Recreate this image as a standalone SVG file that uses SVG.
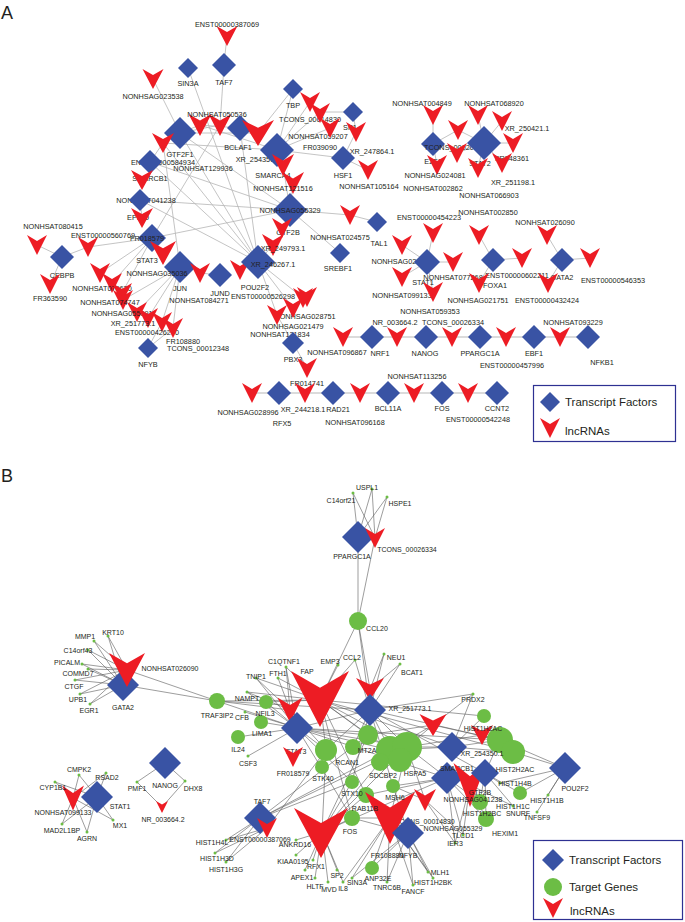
<svg xmlns="http://www.w3.org/2000/svg" width="685" height="922" viewBox="0 0 685 922">
<style>
.t{font-family:"Liberation Sans",Arial,sans-serif;font-size:7.3px;fill:#231f20;text-anchor:middle}
.b{font-family:"Liberation Sans",Arial,sans-serif;font-size:7px;fill:#231f20;text-anchor:middle}
.p{font-family:"Liberation Sans",Arial,sans-serif;font-size:18px;fill:#231f20}
.lg{font-family:"Liberation Sans",Arial,sans-serif;font-size:11.5px;fill:#231f20}
.ea line,.ea polyline{stroke:#b5b5b5;stroke-width:0.8;fill:none}
.eb line{stroke:#5a5a5a;stroke-width:0.6}
.dot{fill:#6cbd45}
</style>
<defs>
<polygon id="d" points="0,-1 1,0 0,1 -1,0" fill="#3953a4"/>
<polygon id="v" points="-1,-1 0,-0.4 1,-1 0,1" fill="#ed1c24"/>
</defs>
<rect width="685" height="922" fill="#fff"/>
<text class="p" x="1" y="19">A</text>
<text class="p" x="1" y="482">B</text>

<g id="edgesA" class="ea">
<line x1="227" y1="35" x2="224" y2="65"/><line x1="224" y1="65" x2="220" y2="125"/>
<line x1="188" y1="68" x2="258" y2="262"/><line x1="153" y1="79" x2="180" y2="133"/>
<line x1="293" y1="89" x2="258" y2="133"/><line x1="293" y1="89" x2="277" y2="150"/>
<line x1="180" y1="133" x2="200" y2="125"/><line x1="180" y1="133" x2="220" y2="125"/>
<line x1="180" y1="133" x2="163" y2="143"/><line x1="180" y1="133" x2="258" y2="133"/>
<line x1="180" y1="133" x2="258" y2="262"/><line x1="180" y1="133" x2="290" y2="210"/>
<line x1="240" y1="128" x2="200" y2="125"/><line x1="240" y1="128" x2="258" y2="262"/>
<line x1="277" y1="150" x2="310" y2="102"/><line x1="277" y1="150" x2="320" y2="112"/>
<line x1="277" y1="150" x2="330" y2="128"/><line x1="277" y1="150" x2="343" y2="158"/>
<line x1="277" y1="150" x2="200" y2="125"/><line x1="277" y1="150" x2="163" y2="143"/>
<line x1="353" y1="112" x2="356" y2="132"/><line x1="353" y1="112" x2="320" y2="112"/>
<line x1="343" y1="158" x2="356" y2="132"/><line x1="343" y1="158" x2="368" y2="170"/>
<line x1="150" y1="162" x2="163" y2="143"/><line x1="150" y1="162" x2="290" y2="210"/>
<line x1="150" y1="162" x2="258" y2="262"/><line x1="140" y1="200" x2="142" y2="218"/>
<line x1="140" y1="200" x2="290" y2="210"/><line x1="140" y1="200" x2="258" y2="262"/>
<line x1="152" y1="238" x2="88" y2="247"/><line x1="152" y1="238" x2="163" y2="253"/>
<line x1="152" y1="238" x2="100" y2="273"/><line x1="152" y1="238" x2="112" y2="283"/>
<line x1="152" y1="238" x2="122" y2="293"/><line x1="152" y1="238" x2="220" y2="125"/>
<line x1="152" y1="238" x2="290" y2="210"/><line x1="163" y1="143" x2="180" y2="267"/>
<line x1="62" y1="257" x2="37" y2="245"/><line x1="62" y1="257" x2="88" y2="247"/>
<line x1="62" y1="257" x2="50" y2="285"/>
<line x1="180" y1="267" x2="123" y2="300"/><line x1="180" y1="267" x2="137" y2="312"/>
<line x1="180" y1="267" x2="148" y2="318"/><line x1="180" y1="267" x2="162" y2="322"/>
<line x1="180" y1="267" x2="173" y2="328"/><line x1="148" y1="348" x2="162" y2="322"/>
<line x1="148" y1="348" x2="173" y2="328"/><line x1="220" y1="275" x2="200" y2="273"/>
<line x1="258" y1="262" x2="240" y2="270"/><line x1="258" y1="262" x2="273" y2="245"/>
<line x1="258" y1="262" x2="303" y2="298"/><line x1="258" y1="262" x2="293" y2="308"/>
<line x1="258" y1="262" x2="277" y2="315"/><line x1="258" y1="262" x2="163" y2="143"/>
<line x1="290" y1="210" x2="340" y2="253"/><line x1="290" y1="210" x2="350" y2="215"/>
<line x1="290" y1="210" x2="283" y2="165"/><line x1="290" y1="210" x2="293" y2="183"/>
<line x1="377" y1="222" x2="350" y2="215"/>
<line x1="293" y1="343" x2="277" y2="315"/><line x1="293" y1="343" x2="307" y2="368"/>
<line x1="433" y1="144" x2="433" y2="115"/><line x1="433" y1="144" x2="458" y2="130"/>
<line x1="433" y1="144" x2="437" y2="165"/>
<line x1="484" y1="143" x2="478" y2="115"/><line x1="484" y1="143" x2="502" y2="121"/>
<line x1="484" y1="143" x2="458" y2="130"/><line x1="484" y1="143" x2="513" y2="143"/>
<line x1="484" y1="143" x2="457" y2="153"/><line x1="484" y1="143" x2="478" y2="168"/>
<line x1="484" y1="143" x2="502" y2="163"/>
<line x1="427" y1="262" x2="433" y2="233"/><line x1="427" y1="262" x2="402" y2="245"/>
<line x1="427" y1="262" x2="453" y2="262"/><line x1="427" y1="262" x2="402" y2="277"/>
<line x1="427" y1="262" x2="433" y2="292"/>
<line x1="493" y1="260" x2="479" y2="235"/><line x1="493" y1="260" x2="522" y2="258"/>
<line x1="493" y1="260" x2="479" y2="283"/>
<line x1="562" y1="260" x2="547" y2="235"/><line x1="562" y1="260" x2="590" y2="258"/>
<line x1="562" y1="260" x2="548" y2="283"/>
<polyline points="343,337 588,337" style="stroke-width:1.6;stroke:#cfcfcf"/>
<polyline points="252,393 497,393" style="stroke-width:1.6;stroke:#cfcfcf"/>
</g>

<g id="nodesA">
<g id="a-ENST00000387069"><use href="#v" transform="translate(227,36) scale(10.5,10)"/><text class="t" x="227" y="26.5">ENST00000387069</text></g>
<g id="a-TAF7"><use href="#d" transform="translate(224,65) scale(12)"/><text class="t" x="224" y="84.5">TAF7</text></g>
<g id="a-SIN3A"><use href="#d" transform="translate(188,68) scale(10)"/><text class="t" x="188" y="85.5">SIN3A</text></g>
<g id="a-NONHSAG023538"><use href="#v" transform="translate(153,79) scale(10.5,10)"/><text class="t" x="153" y="98.5">NONHSAG023538</text></g>
<g id="a-TBP"><use href="#d" transform="translate(293,89) scale(10)"/><text class="t" x="293" y="107.5">TBP</text></g>
<g id="a-SP1"><use href="#d" transform="translate(353,112) scale(10)"/><text class="t" x="350" y="129.5">SP1</text></g>
<g id="a-TCONS_00014830"><use href="#v" transform="translate(310,102) scale(10)"/><text class="t" x="310" y="121.5">TCONS_00014830</text></g>
<g id="a-NONHSAT059207"><use href="#v" transform="translate(320,113) scale(10)"/><text class="t" x="318" y="138.5">NONHSAT059207</text></g>
<g id="a-FR039090"><use href="#v" transform="translate(330,128) scale(10)"/><text class="t" x="320" y="149.5">FR039090</text></g>
<g id="a-XR_247864.1"><use href="#v" transform="translate(356,132) scale(10)"/><text class="t" x="372" y="153.5">XR_247864.1</text></g>
<g id="a-GTF2F1"><use href="#d" transform="translate(180,133) scale(16)"/><text class="t" x="180" y="156.5">GTF2F1</text></g>
<g id="a-NONHSAT050536a"><use href="#v" transform="translate(200,125) scale(11.5,11)"/></g>
<g id="a-NONHSAT050536"><use href="#v" transform="translate(220,125) scale(11.5,11)"/><text class="t" x="217" y="116.5">NONHSAT050536</text></g>
<g id="a-BCLAF1"><use href="#d" transform="translate(240,128) scale(13)"/><text class="t" x="238" y="149.5">BCLAF1</text></g>
<g id="a-XR_254350.1"><use href="#v" transform="translate(258,133) scale(16,13)"/><text class="t" x="258" y="161.5">XR_254350.1</text></g>
<g id="a-SMARCA4"><use href="#d" transform="translate(277,150) scale(17)"/><text class="t" x="273" y="177.5">SMARCA4</text></g>
<g id="a-HSF1"><use href="#d" transform="translate(343,158) scale(12)"/><text class="t" x="343" y="177.5">HSF1</text></g>
<g id="a-NONHSAT105164"><use href="#v" transform="translate(368,170) scale(10)"/><text class="t" x="369" y="188.5">NONHSAT105164</text></g>
<g id="a-ENST00000584934"><use href="#v" transform="translate(163,143) scale(11,10)"/><text class="t" x="163" y="164.5">ENST00000584934</text></g>
<g id="a-SMARCB1"><use href="#d" transform="translate(150,162) scale(12)"/><text class="t" x="150" y="180.5">SMARCB1</text></g>
<g id="a-NONHSAT129936"><text class="t" x="203" y="170.5">NONHSAT129936</text></g>
<g id="a-NONHSAT041238"><use href="#v" transform="translate(142,180) scale(11,10)"/><text class="t" x="146" y="202.5">NONHSAT041238</text></g>
<g id="a-EP300"><use href="#d" transform="translate(140,200) scale(11)"/><text class="t" x="138" y="219.5">EP300</text></g>
<g id="a-V218"><use href="#v" transform="translate(142,218) scale(11,10)"/></g>
<g id="a-NONHSAT121516"><use href="#v" transform="translate(283,165) scale(11)"/><use href="#v" transform="translate(293,183) scale(11)"/><text class="t" x="283" y="190.5">NONHSAT121516</text></g>
<g id="a-GTF2B"><use href="#d" transform="translate(290,210) scale(17)"/><text class="t" x="290" y="212.5">NONHSAG055329</text><text class="t" x="288" y="234.5">GTF2B</text></g>
<g id="a-V228"><use href="#v" transform="translate(282,228) scale(10)"/></g>
<g id="a-XR_249793.1"><use href="#v" transform="translate(273,245) scale(11)"/><text class="t" x="283" y="250.5">XR_249793.1</text></g>
<g id="a-NONHSAT024575"><use href="#v" transform="translate(350,215) scale(10)"/><text class="t" x="340" y="239.5">NONHSAT024575</text></g>
<g id="a-TAL1"><use href="#d" transform="translate(377,222) scale(10)"/><text class="t" x="379" y="245.5">TAL1</text></g>
<g id="a-SREBF1"><use href="#d" transform="translate(340,253) scale(10)"/><text class="t" x="338" y="270.5">SREBF1</text></g>
<g id="a-STAT3"><use href="#d" transform="translate(152,238) scale(14)"/><text class="t" x="147" y="240.5">FR018579</text><text class="t" x="147" y="262.5">STAT3</text></g>
<g id="a-NONHSAT080415"><use href="#v" transform="translate(37,245) scale(10)"/><text class="t" x="53" y="228.5">NONHSAT080415</text></g>
<g id="a-ENST00000560769"><use href="#v" transform="translate(88,247) scale(10)"/><text class="t" x="103" y="237.5">ENST00000560769</text></g>
<g id="a-CEBPB"><use href="#d" transform="translate(62,257) scale(12)"/><text class="t" x="62" y="277.5">CEBPB</text></g>
<g id="a-FR363590"><use href="#v" transform="translate(50,284) scale(10)"/><text class="t" x="50" y="300.5">FR363590</text></g>
<g id="a-V253"><use href="#v" transform="translate(163,253) scale(13,12)"/></g>
<g id="a-JUN"><use href="#d" transform="translate(180,267) scale(16)"/><text class="t" x="157" y="275.5">NONHSAG035036</text><text class="t" x="180" y="290.5">JUN</text></g>
<g id="a-V200"><use href="#v" transform="translate(200,273) scale(10)"/></g>
<g id="a-JUND"><use href="#d" transform="translate(220,275) scale(12)"/><text class="t" x="220" y="295.5">JUND</text></g>
<g id="a-V240"><use href="#v" transform="translate(240,270) scale(10)"/></g>
<g id="a-POU2F2"><use href="#d" transform="translate(258,262) scale(17)"/><text class="t" x="273" y="266.5">XR_246267.1</text><text class="t" x="255" y="289.5">POU2F2</text></g>
<g id="a-ENST00000526298"><use href="#v" transform="translate(307,297) scale(10)"/><text class="t" x="263" y="298.5">ENST00000526298</text></g>
<g id="a-NONHSAT079630"><use href="#v" transform="translate(100,273) scale(10)"/><use href="#v" transform="translate(112,283) scale(10)"/><text class="t" x="102" y="290.5">NONHSAT079630</text></g>
<g id="a-NONHSAT074747"><use href="#v" transform="translate(122,293) scale(10)"/><use href="#v" transform="translate(123,300) scale(10)"/><text class="t" x="110" y="304.5">NONHSAT074747</text></g>
<g id="a-NONHSAG055091"><use href="#v" transform="translate(137,312) scale(10)"/><text class="t" x="122" y="315.5">NONHSAG055091</text></g>
<g id="a-XR_251773.1"><use href="#v" transform="translate(148,318) scale(10)"/><text class="t" x="133" y="325.5">XR_251773.1</text></g>
<g id="a-ENST00000426270"><use href="#v" transform="translate(162,322) scale(10)"/><text class="t" x="147" y="334.5">ENST00000426270</text></g>
<g id="a-FR108880"><use href="#v" transform="translate(173,328) scale(10)"/><text class="t" x="183" y="343.5">FR108880</text></g>
<g id="a-NONHSAT084271"><text class="t" x="199" y="302.5">NONHSAT084271</text></g>
<g id="a-TCONS_00012348"><text class="t" x="198" y="350.5">TCONS_00012348</text></g>
<g id="a-NFYB"><use href="#d" transform="translate(148,348) scale(10)"/><text class="t" x="148" y="366.5">NFYB</text></g>
<g id="a-NONHSAG028751"><use href="#v" transform="translate(303,298) scale(10)"/><text class="t" x="305" y="318.5">NONHSAG028751</text></g>
<g id="a-NONHSAG021479"><use href="#v" transform="translate(293,308) scale(10)"/><text class="t" x="293" y="328.5">NONHSAG021479</text></g>
<g id="a-NONHSAT131834"><use href="#v" transform="translate(277,315) scale(10)"/><text class="t" x="280" y="336.5">NONHSAT131834</text></g>
<g id="a-PBX3"><use href="#d" transform="translate(293,343) scale(11)"/><text class="t" x="293" y="361.5">PBX3</text></g>
<g id="a-FR014741"><use href="#v" transform="translate(307,368) scale(10)"/><text class="t" x="307" y="385.5">FR014741</text></g>
<g id="a-NONHSAT004849"><use href="#v" transform="translate(433,115) scale(10)"/><text class="t" x="422" y="105.5">NONHSAT004849</text></g>
<g id="a-NONHSAT068920"><use href="#v" transform="translate(478,115) scale(10)"/><text class="t" x="494" y="105.5">NONHSAT068920</text></g>
<g id="a-V458"><use href="#v" transform="translate(458,130) scale(10)"/></g>
<g id="a-XR_250421.1"><use href="#v" transform="translate(502,121) scale(10)"/><text class="t" x="527" y="130.5">XR_250421.1</text></g>
<g id="a-E2F1"><use href="#d" transform="translate(433,144) scale(12)"/><text class="t" x="433" y="163.5">E2F1</text></g>
<g id="a-TCONS_0002"><text class="t" x="455" y="149.5">TCONS_00020734</text><use href="#v" transform="translate(457,153) scale(10)"/></g>
<g id="a-STAT2"><use href="#d" transform="translate(484,143) scale(17)"/><text class="t" x="480" y="165.5">STAT2</text></g>
<g id="a-FR348361"><use href="#v" transform="translate(513,143) scale(10)"/><text class="t" x="512" y="160.5">FR348361</text></g>
<g id="a-NONHSAG024081"><use href="#v" transform="translate(437,165) scale(10)"/><text class="t" x="435" y="177.5">NONHSAG024081</text></g>
<g id="a-XR_251198.1"><use href="#v" transform="translate(502,163) scale(10)"/><text class="t" x="513" y="184.5">XR_251198.1</text></g>
<g id="a-NONHSAT066903"><use href="#v" transform="translate(478,168) scale(10)"/><text class="t" x="489" y="197.5">NONHSAT066903</text></g>
<g id="a-NONHSAT002862"><text class="t" x="433" y="190.5">NONHSAT002862</text></g>
<g id="a-ENST00000454223"><use href="#v" transform="translate(433,233) scale(10)"/><text class="t" x="429" y="219.5">ENST00000454223</text></g>
<g id="a-NONHSAG023901"><use href="#v" transform="translate(402,245) scale(10)"/><text class="t" x="402" y="263.5">NONHSAG023901</text></g>
<g id="a-STAT1"><use href="#d" transform="translate(427,262) scale(13)"/><text class="t" x="423" y="284.5">STAT1</text></g>
<g id="a-NONHSAT077268"><use href="#v" transform="translate(453,262) scale(10)"/><text class="t" x="453" y="279.5">NONHSAT077268</text></g>
<g id="a-NONHSAT099133"><use href="#v" transform="translate(402,277) scale(10)"/><text class="t" x="402" y="297.5">NONHSAT099133</text></g>
<g id="a-V433"><use href="#v" transform="translate(433,292) scale(10)"/></g>
<g id="a-NONHSAT002850"><use href="#v" transform="translate(479,235) scale(10)"/><text class="t" x="488" y="214.5">NONHSAT002850</text></g>
<g id="a-FOXA1"><use href="#d" transform="translate(493,260) scale(12)"/><text class="t" x="495" y="287.5">FOXA1</text></g>
<g id="a-ENST00000602211"><use href="#v" transform="translate(522,258) scale(10)"/><text class="t" x="517" y="277.5">ENST00000602211</text></g>
<g id="a-NONHSAG021751"><use href="#v" transform="translate(479,283) scale(10)"/><text class="t" x="478" y="302.5">NONHSAG021751</text></g>
<g id="a-NONHSAT026090"><use href="#v" transform="translate(547,235) scale(10)"/><text class="t" x="545" y="224.5">NONHSAT026090</text></g>
<g id="a-GATA2"><use href="#d" transform="translate(562,260) scale(12)"/><text class="t" x="562" y="279.5">GATA2</text></g>
<g id="a-ENST00000546353"><use href="#v" transform="translate(590,258) scale(10)"/><text class="t" x="613" y="282.5">ENST00000546353</text></g>
<g id="a-ENST00000432424"><use href="#v" transform="translate(548,283) scale(10)"/><text class="t" x="547" y="302.5">ENST00000432424</text></g>
<g id="a-NONHSAT096867"><use href="#v" transform="translate(343,337) scale(10)"/><text class="t" x="337" y="354.5">NONHSAT096867</text></g>
<g id="a-NRF1"><use href="#d" transform="translate(372,337) scale(12)"/><text class="t" x="380" y="355.5">NRF1</text></g>
<g id="a-NR_003664.2"><use href="#v" transform="translate(397,337) scale(10)"/><text class="t" x="395" y="324.5">NR_003664.2</text></g>
<g id="a-NANOG"><use href="#d" transform="translate(426,337) scale(12)"/><text class="t" x="425" y="355.5">NANOG</text></g>
<g id="a-TCONS_00026334"><use href="#v" transform="translate(452,337) scale(10)"/><text class="t" x="453" y="324.5">TCONS_00026334</text></g>
<g id="a-NONHSAT059353"><text class="t" x="430" y="313.5">NONHSAT059353</text></g>
<g id="a-PPARGC1A"><use href="#d" transform="translate(480,337) scale(12)"/><text class="t" x="480" y="355.5">PPARGC1A</text></g>
<g id="a-ENST00000457996"><use href="#v" transform="translate(506,337) scale(10)"/><text class="t" x="512" y="367.5">ENST00000457996</text></g>
<g id="a-EBF1"><use href="#d" transform="translate(534,337) scale(12)"/><text class="t" x="534" y="355.5">EBF1</text></g>
<g id="a-NONHSAT093229"><use href="#v" transform="translate(560,337) scale(10)"/><text class="t" x="573" y="324.5">NONHSAT093229</text></g>
<g id="a-NFKB1"><use href="#d" transform="translate(588,337) scale(12)"/><text class="t" x="602" y="364.5">NFKB1</text></g>
<g id="a-NONHSAG028996"><use href="#v" transform="translate(252,393) scale(10)"/><text class="t" x="248" y="414.5">NONHSAG028996</text></g>
<g id="a-RFX5"><use href="#d" transform="translate(279,393) scale(12)"/><text class="t" x="282" y="425.5">RFX5</text></g>
<g id="a-XR_244218.1"><use href="#v" transform="translate(305,393) scale(10)"/><text class="t" x="303" y="411.5">XR_244218.1</text></g>
<g id="a-RAD21"><use href="#d" transform="translate(333,393) scale(12)"/><text class="t" x="338" y="411.5">RAD21</text></g>
<g id="a-NONHSAT096168"><use href="#v" transform="translate(360,393) scale(10)"/><text class="t" x="355" y="424.5">NONHSAT096168</text></g>
<g id="a-BCL11A"><use href="#d" transform="translate(388,393) scale(12)"/><text class="t" x="388" y="410.5">BCL11A</text></g>
<g id="a-NONHSAT113256"><use href="#v" transform="translate(414,393) scale(10)"/><text class="t" x="417" y="378.5">NONHSAT113256</text></g>
<g id="a-FOS"><use href="#d" transform="translate(442,393) scale(12)"/><text class="t" x="442" y="410.5">FOS</text></g>
<g id="a-ENST00000542248"><use href="#v" transform="translate(468,393) scale(10)"/><text class="t" x="478" y="421.5">ENST00000542248</text></g>
<g id="a-CCNT2"><use href="#d" transform="translate(497,393) scale(12)"/><text class="t" x="497" y="410.5">CCNT2</text></g>
</g>

<g id="legendA">
<rect x="533.5" y="385.5" width="142" height="56" fill="#fff" stroke="#2e3192" stroke-width="1.2"/>
<use href="#d" transform="translate(550,402) scale(10)"/>
<text class="lg" x="565" y="406">Transcript Factors</text>
<use href="#v" transform="translate(550,428) scale(10)"/>
<text class="lg" x="565" y="435">lncRNAs</text>
</g>

<g id="edgesB" class="eb">
<line x1="358" y1="537" x2="353" y2="493"/><line x1="358" y1="537" x2="372" y2="489"/><line x1="358" y1="537" x2="387" y2="497"/><line x1="358" y1="537" x2="358" y2="621"/>
<line x1="375" y1="538" x2="353" y2="493"/><line x1="375" y1="538" x2="372" y2="489"/><line x1="375" y1="538" x2="387" y2="497"/><line x1="375" y1="538" x2="358" y2="621"/>
<line x1="358" y1="621" x2="370" y2="710"/><line x1="358" y1="621" x2="370" y2="689"/><line x1="358" y1="621" x2="320" y2="700"/>
<line x1="123" y1="685" x2="94" y2="641"/><line x1="123" y1="685" x2="108" y2="636"/><line x1="123" y1="685" x2="88" y2="650"/><line x1="123" y1="685" x2="82" y2="664"/><line x1="123" y1="685" x2="88" y2="669"/><line x1="123" y1="685" x2="75" y2="680"/><line x1="123" y1="685" x2="80" y2="694"/><line x1="123" y1="685" x2="90" y2="704"/><line x1="123" y1="685" x2="217" y2="701"/>
<line x1="127" y1="670" x2="94" y2="641"/><line x1="127" y1="670" x2="108" y2="636"/><line x1="127" y1="670" x2="88" y2="650"/><line x1="127" y1="670" x2="82" y2="664"/><line x1="127" y1="670" x2="88" y2="669"/><line x1="127" y1="670" x2="75" y2="680"/><line x1="127" y1="670" x2="80" y2="694"/><line x1="127" y1="670" x2="90" y2="704"/><line x1="127" y1="670" x2="217" y2="701"/>
<line x1="217" y1="701" x2="297" y2="728"/><line x1="217" y1="701" x2="320" y2="700"/><line x1="217" y1="701" x2="290" y2="710"/><line x1="217" y1="701" x2="370" y2="710"/>
<line x1="297" y1="728" x2="247" y2="692"/><line x1="297" y1="728" x2="266" y2="702"/><line x1="297" y1="728" x2="245" y2="712"/><line x1="297" y1="728" x2="261" y2="722"/><line x1="297" y1="728" x2="238" y2="737"/><line x1="297" y1="728" x2="248" y2="756"/><line x1="297" y1="728" x2="256" y2="678"/><line x1="297" y1="728" x2="286" y2="667"/><line x1="297" y1="728" x2="278" y2="678"/><line x1="297" y1="728" x2="326" y2="750"/><line x1="297" y1="728" x2="368" y2="735"/><line x1="297" y1="728" x2="390" y2="750"/><line x1="297" y1="728" x2="407" y2="747"/><line x1="297" y1="728" x2="352" y2="782"/><line x1="297" y1="728" x2="352" y2="818"/>
<line x1="297" y1="728" x2="500" y2="740"/><line x1="297" y1="728" x2="447" y2="778"/>
<line x1="320" y1="700" x2="286" y2="667"/><line x1="320" y1="700" x2="278" y2="678"/><line x1="320" y1="700" x2="256" y2="678"/><line x1="320" y1="700" x2="338" y2="665"/><line x1="320" y1="700" x2="355" y2="660"/><line x1="320" y1="700" x2="266" y2="702"/><line x1="320" y1="700" x2="247" y2="692"/><line x1="320" y1="700" x2="326" y2="750"/><line x1="320" y1="700" x2="368" y2="735"/><line x1="320" y1="700" x2="390" y2="750"/><line x1="320" y1="700" x2="407" y2="747"/><line x1="320" y1="700" x2="452" y2="747"/><line x1="320" y1="700" x2="484" y2="716"/><line x1="320" y1="700" x2="352" y2="818"/><line x1="320" y1="700" x2="366" y2="795"/><line x1="320" y1="700" x2="513" y2="752"/>
<line x1="290" y1="710" x2="256" y2="678"/><line x1="290" y1="710" x2="286" y2="667"/><line x1="290" y1="710" x2="247" y2="692"/><line x1="290" y1="710" x2="326" y2="750"/>
<line x1="370" y1="710" x2="384" y2="654"/><line x1="370" y1="710" x2="400" y2="664"/><line x1="370" y1="710" x2="355" y2="660"/><line x1="370" y1="710" x2="368" y2="735"/><line x1="370" y1="710" x2="353" y2="747"/><line x1="370" y1="710" x2="390" y2="750"/><line x1="370" y1="710" x2="407" y2="747"/><line x1="370" y1="710" x2="326" y2="750"/><line x1="370" y1="710" x2="500" y2="740"/><line x1="370" y1="710" x2="473" y2="694"/><line x1="370" y1="710" x2="352" y2="782"/><line x1="370" y1="710" x2="393" y2="786"/><line x1="370" y1="710" x2="297" y2="728"/><line x1="370" y1="710" x2="485" y2="773"/>
<line x1="370" y1="689" x2="384" y2="654"/><line x1="370" y1="689" x2="400" y2="664"/>
<line x1="433" y1="725" x2="473" y2="694"/><line x1="433" y1="725" x2="407" y2="747"/><line x1="433" y1="725" x2="390" y2="750"/><line x1="433" y1="725" x2="500" y2="740"/><line x1="433" y1="725" x2="368" y2="735"/>
<line x1="452" y1="747" x2="473" y2="694"/><line x1="452" y1="747" x2="484" y2="716"/><line x1="452" y1="747" x2="500" y2="740"/><line x1="452" y1="747" x2="513" y2="752"/><line x1="452" y1="747" x2="407" y2="747"/><line x1="452" y1="747" x2="390" y2="750"/>
<line x1="482" y1="735" x2="500" y2="740"/><line x1="482" y1="735" x2="513" y2="752"/><line x1="482" y1="735" x2="407" y2="747"/>
<line x1="565" y1="768" x2="548" y2="795"/><line x1="565" y1="768" x2="537" y2="812"/><line x1="565" y1="768" x2="500" y2="783"/><line x1="565" y1="768" x2="513" y2="752"/><line x1="565" y1="768" x2="500" y2="740"/><line x1="565" y1="768" x2="520" y2="793"/>
<line x1="447" y1="778" x2="407" y2="747"/><line x1="447" y1="778" x2="393" y2="786"/><line x1="447" y1="778" x2="480" y2="802"/><line x1="447" y1="778" x2="486" y2="819"/><line x1="447" y1="778" x2="463" y2="835"/><line x1="447" y1="778" x2="455" y2="843"/><line x1="447" y1="778" x2="366" y2="795"/>
<line x1="485" y1="773" x2="500" y2="783"/><line x1="485" y1="773" x2="520" y2="793"/><line x1="485" y1="773" x2="513" y2="806"/><line x1="485" y1="773" x2="480" y2="802"/><line x1="485" y1="773" x2="486" y2="819"/><line x1="485" y1="773" x2="500" y2="740"/>
<line x1="470" y1="785" x2="480" y2="802"/><line x1="470" y1="785" x2="486" y2="819"/><line x1="470" y1="785" x2="455" y2="843"/><line x1="470" y1="785" x2="463" y2="835"/><line x1="470" y1="785" x2="513" y2="806"/>
<line x1="408" y1="833" x2="428" y2="872"/><line x1="408" y1="833" x2="433" y2="878"/><line x1="408" y1="833" x2="413" y2="885"/><line x1="408" y1="833" x2="387" y2="882"/><line x1="408" y1="833" x2="372" y2="868"/><line x1="408" y1="833" x2="352" y2="878"/><line x1="408" y1="833" x2="352" y2="818"/><line x1="408" y1="833" x2="366" y2="795"/><line x1="408" y1="833" x2="393" y2="786"/>
<line x1="390" y1="818" x2="428" y2="872"/><line x1="390" y1="818" x2="433" y2="878"/><line x1="390" y1="818" x2="413" y2="885"/><line x1="390" y1="818" x2="387" y2="882"/><line x1="390" y1="818" x2="372" y2="868"/><line x1="390" y1="818" x2="352" y2="878"/><line x1="390" y1="818" x2="343" y2="882"/><line x1="390" y1="818" x2="352" y2="818"/><line x1="390" y1="818" x2="407" y2="747"/>
<line x1="425" y1="800" x2="407" y2="747"/><line x1="425" y1="800" x2="393" y2="786"/><line x1="425" y1="800" x2="463" y2="835"/><line x1="425" y1="800" x2="455" y2="843"/>
<line x1="322" y1="832" x2="296" y2="840"/><line x1="322" y1="832" x2="296" y2="855"/><line x1="322" y1="832" x2="313" y2="860"/><line x1="322" y1="832" x2="305" y2="870"/><line x1="322" y1="832" x2="315" y2="878"/><line x1="322" y1="832" x2="328" y2="882"/><line x1="322" y1="832" x2="337" y2="870"/><line x1="322" y1="832" x2="343" y2="882"/><line x1="322" y1="832" x2="326" y2="750"/><line x1="322" y1="832" x2="368" y2="735"/><line x1="322" y1="832" x2="390" y2="750"/><line x1="322" y1="832" x2="407" y2="747"/><line x1="322" y1="832" x2="352" y2="782"/><line x1="322" y1="832" x2="366" y2="795"/><line x1="322" y1="832" x2="352" y2="818"/><line x1="322" y1="832" x2="447" y2="778"/>
<line x1="260" y1="818" x2="226" y2="840"/><line x1="260" y1="818" x2="215" y2="853"/><line x1="260" y1="818" x2="226" y2="862"/><line x1="260" y1="818" x2="368" y2="735"/><line x1="260" y1="818" x2="407" y2="747"/><line x1="260" y1="818" x2="390" y2="750"/><line x1="260" y1="818" x2="352" y2="782"/>
<line x1="267" y1="828" x2="226" y2="840"/><line x1="267" y1="828" x2="215" y2="853"/><line x1="267" y1="828" x2="226" y2="862"/><line x1="267" y1="828" x2="326" y2="750"/>
<line x1="97" y1="797" x2="79" y2="775"/><line x1="97" y1="797" x2="106" y2="773"/><line x1="97" y1="797" x2="55" y2="782"/><line x1="97" y1="797" x2="113" y2="820"/><line x1="97" y1="797" x2="62" y2="824"/><line x1="97" y1="797" x2="87" y2="832"/>
<line x1="73" y1="798" x2="79" y2="775"/><line x1="73" y1="798" x2="106" y2="773"/><line x1="73" y1="798" x2="55" y2="782"/><line x1="73" y1="798" x2="113" y2="820"/><line x1="73" y1="798" x2="62" y2="824"/><line x1="73" y1="798" x2="87" y2="832"/>
<line x1="165" y1="763" x2="137" y2="782"/><line x1="165" y1="763" x2="185" y2="781"/><line x1="162" y1="807" x2="137" y2="782"/><line x1="162" y1="807" x2="185" y2="781"/>
</g>

<g id="nodesB">
<g id="b-genes-small" class="dot">
<circle cx="353" cy="493" r="1.5"/><circle cx="372" cy="489" r="1.5"/><circle cx="387" cy="497" r="1.5"/>
<circle cx="94" cy="641" r="1.5"/><circle cx="108" cy="636" r="1.5"/><circle cx="88" cy="650" r="1.5"/><circle cx="82" cy="664" r="1.5"/><circle cx="88" cy="669" r="1.5"/><circle cx="75" cy="680" r="1.5"/><circle cx="80" cy="694" r="1.5"/><circle cx="90" cy="704" r="1.5"/>
<circle cx="247" cy="692" r="1.5"/><circle cx="256" cy="678" r="1.5"/><circle cx="286" cy="667" r="1.5"/><circle cx="278" cy="678" r="1.5"/><circle cx="338" cy="665" r="1.5"/><circle cx="355" cy="660" r="1.5"/><circle cx="384" cy="654" r="1.5"/><circle cx="400" cy="664" r="1.5"/><circle cx="245" cy="712" r="1.5"/><circle cx="248" cy="756" r="1.5"/><circle cx="473" cy="694" r="1.5"/>
<circle cx="500" cy="783" r="1.5"/><circle cx="548" cy="795" r="1.5"/><circle cx="537" cy="812" r="1.5"/><circle cx="513" cy="806" r="1.5"/><circle cx="463" cy="835" r="1.5"/><circle cx="455" cy="843" r="1.5"/>
<circle cx="428" cy="872" r="1.5"/><circle cx="433" cy="878" r="1.5"/><circle cx="413" cy="885" r="1.5"/><circle cx="387" cy="882" r="1.5"/><circle cx="352" cy="878" r="1.5"/><circle cx="343" cy="882" r="1.5"/>
<circle cx="296" cy="840" r="1.5"/><circle cx="296" cy="855" r="1.5"/><circle cx="313" cy="860" r="1.5"/><circle cx="305" cy="870" r="1.5"/><circle cx="315" cy="878" r="1.5"/><circle cx="328" cy="882" r="1.5"/><circle cx="337" cy="870" r="1.5"/>
<circle cx="226" cy="840" r="1.5"/><circle cx="215" cy="853" r="1.5"/><circle cx="226" cy="862" r="1.5"/>
<circle cx="79" cy="775" r="1.5"/><circle cx="106" cy="773" r="1.5"/><circle cx="55" cy="782" r="1.5"/><circle cx="113" cy="820" r="1.5"/><circle cx="62" cy="824" r="1.5"/><circle cx="87" cy="832" r="1.5"/>
<circle cx="137" cy="782" r="1.5"/><circle cx="185" cy="781" r="1.5"/>
</g>
<g id="b-genes-big" class="dot">
<circle cx="358" cy="621" r="9"/><circle cx="217" cy="701" r="8"/><circle cx="266" cy="702" r="7"/><circle cx="261" cy="722" r="7"/><circle cx="238" cy="737" r="7"/>
<circle cx="326" cy="750" r="11"/><circle cx="322" cy="767" r="7"/><circle cx="368" cy="735" r="10"/><circle cx="353" cy="747" r="8"/>
<circle cx="390" cy="750" r="14"/><circle cx="407" cy="747" r="15"/><circle cx="400" cy="760" r="12"/><circle cx="380" cy="762" r="9"/>
<circle cx="484" cy="716" r="7"/><circle cx="500" cy="740" r="13"/><circle cx="513" cy="752" r="12"/><circle cx="520" cy="793" r="7"/>
<circle cx="352" cy="782" r="7"/><circle cx="366" cy="795" r="8"/><circle cx="393" cy="786" r="7"/><circle cx="352" cy="818" r="8"/><circle cx="372" cy="868" r="7"/>
<circle cx="480" cy="802" r="8"/><circle cx="486" cy="819" r="8"/>
</g>
<g id="b-PPARGC1A"><use href="#d" transform="translate(358,537) scale(16)"/><text class="b" x="352" y="558.5">PPARGC1A</text></g>
<g id="b-TCONS_00026334"><use href="#v" transform="translate(375,538) scale(10)"/><text class="b" x="407" y="551.5">TCONS_00026334</text></g>
<g id="b-GATA2"><use href="#d" transform="translate(123,685) scale(16)"/><text class="b" x="123" y="709.5">GATA2</text></g>
<g id="b-NONHSAT026090"><use href="#v" transform="translate(127,670) scale(18,17)"/><text class="b" x="170" y="670.5">NONHSAT026090</text></g>
<g id="b-V290"><use href="#v" transform="translate(290,710) scale(12.5)"/></g>
<g id="b-V320"><use href="#v" transform="translate(320,699) scale(29,28)"/></g>
<g id="b-V370"><use href="#v" transform="translate(370,689) scale(14,11)"/></g>
<g id="b-STAT3"><use href="#d" transform="translate(297,728) scale(16)"/><text class="b" x="296" y="753.5">STAT3</text></g>
<g id="b-FR018579"><use href="#v" transform="translate(293,757) scale(10)"/><text class="b" x="293" y="775.5">FR018579</text></g>
<g id="b-XR_251773.1"><use href="#d" transform="translate(370,710) scale(16)"/><text class="b" x="410" y="710.5">XR_251773.1</text></g>
<g id="b-V433"><use href="#v" transform="translate(433,725) scale(13.5,11)"/></g>
<g id="b-XR_254350.1"><use href="#d" transform="translate(452,747) scale(15)"/><text class="b" x="482" y="755.5">XR_254350.1</text></g>
<g id="b-V482"><use href="#v" transform="translate(482,735) scale(11,10)"/></g>
<g id="b-POU2F2"><use href="#d" transform="translate(565,768) scale(16)"/><text class="b" x="575" y="790.5">POU2F2</text></g>
<g id="b-SMARCB1"><use href="#d" transform="translate(447,778) scale(16)"/><text class="b" x="457" y="770.5">SMARCB1</text></g>
<g id="b-NONHSAG041238"><use href="#v" transform="translate(470,785) scale(16.5,22)"/><text class="b" x="473" y="801.5">NONHSAG041238</text></g>
<g id="b-GTF2B"><use href="#d" transform="translate(485,773) scale(14)"/><text class="b" x="480" y="794.5">GTF2B</text></g>
<g id="b-TCONS_00014830"><use href="#v" transform="translate(425,800) scale(11)"/><text class="b" x="425" y="823.5">TCONS_00014830</text></g>
<g id="b-FR108880"><use href="#v" transform="translate(390,818) scale(25,26)"/><text class="b" x="387" y="857.5">FR108880</text></g>
<g id="b-NFYB"><use href="#d" transform="translate(408,833) scale(16)"/><text class="b" x="408" y="857.5">NFYB</text></g>
<g id="b-V322"><use href="#v" transform="translate(321,833) scale(27,25)"/></g>
<g id="b-TAF7"><use href="#d" transform="translate(260,818) scale(16)"/><text class="b" x="262" y="803.5">TAF7</text></g>
<g id="b-ENST00000387069"><use href="#v" transform="translate(267,828) scale(10)"/><text class="b" x="260" y="841.5">ENST00000387069</text></g>
<g id="b-STAT1"><use href="#d" transform="translate(97,797) scale(16)"/><text class="b" x="120" y="808.5">STAT1</text></g>
<g id="b-NONHSAT099133"><use href="#v" transform="translate(73,798) scale(11,12.5)"/><text class="b" x="63" y="814.5">NONHSAT099133</text></g>
<g id="b-NANOG"><use href="#d" transform="translate(165,763) scale(16)"/><text class="b" x="165" y="787.5">NANOG</text></g>
<g id="b-NR_003664.2"><use href="#v" transform="translate(162,807) scale(6)"/><text class="b" x="163" y="821.5">NR_003664.2</text></g>
<g id="b-labels">
<text class="b" x="341" y="502.5">C14orf21</text><text class="b" x="367" y="489.5">USPL1</text><text class="b" x="400" y="505.5">HSPE1</text>
<text class="b" x="377" y="630.5">CCL20</text>
<text class="b" x="85" y="638.5">MMP1</text><text class="b" x="113" y="634.5">KRT10</text><text class="b" x="78" y="652.5">C14orf43</text><text class="b" x="67" y="664.5">PICALM</text><text class="b" x="78" y="675.5">COMMD7</text><text class="b" x="74" y="688.5">CTGF</text><text class="b" x="78" y="701.5">UPB1</text><text class="b" x="89" y="712.5">EGR1</text>
<text class="b" x="217" y="717.5">TRAF3IP2</text><text class="b" x="247" y="700.5">NAMPT</text><text class="b" x="256" y="678.5">TNIP1</text><text class="b" x="284" y="663.5">C1QTNF1</text><text class="b" x="278" y="675.5">FTH1</text><text class="b" x="307" y="673.5">FAP</text><text class="b" x="330" y="663.5">EMP3</text><text class="b" x="352" y="659.5">CCL2</text><text class="b" x="396" y="659.5">NEU1</text><text class="b" x="412" y="674.5">BCAT1</text>
<text class="b" x="242" y="719.5">CFB</text><text class="b" x="265" y="715.5">NFIL3</text><text class="b" x="262" y="735.5">LIMA1</text><text class="b" x="238" y="751.5">IL24</text><text class="b" x="248" y="765.5">CSF3</text>
<text class="b" x="323" y="780.5">STK40</text><text class="b" x="367" y="752.5">MT2A</text><text class="b" x="473" y="701.5">PRDX2</text><text class="b" x="483" y="730.5">HIST1H2AC</text>
<text class="b" x="347" y="764.5">RCAN1</text><text class="b" x="383" y="777.5">SDCBP2</text><text class="b" x="415" y="775.5">HSPA5</text><text class="b" x="352" y="795.5">STX10</text><text class="b" x="395" y="799.5">MSH6</text><text class="b" x="365" y="810.5">RAB11B</text><text class="b" x="350" y="833.5">FOS</text>
<text class="b" x="515" y="771.5">HIST2H2AC</text><text class="b" x="515" y="785.5">HIST1H4B</text><text class="b" x="547" y="802.5">HIST1H1B</text><text class="b" x="513" y="808.5">HIST1H1C</text><text class="b" x="518" y="815.5">SNURF</text><text class="b" x="537" y="819.5">TNFSF9</text><text class="b" x="482" y="815.5">HIST1H2BC</text><text class="b" x="505" y="835.5">HEXIM1</text>
<text class="b" x="453" y="830.5">NONHSAG055329</text><text class="b" x="463" y="837.5">TLCD1</text><text class="b" x="455" y="845.5">IER3</text>
<text class="b" x="440" y="874.5">MLH1</text><text class="b" x="433" y="884.5">HIST1H2BK</text><text class="b" x="387" y="889.5">TNRC6B</text><text class="b" x="413" y="893.5">FANCF</text><text class="b" x="378" y="880.5">ANP32E</text><text class="b" x="357" y="884.5">SIN3A</text><text class="b" x="343" y="890.5">IL8</text>
<text class="b" x="79" y="771.5">CMPK2</text><text class="b" x="107" y="779.5">RSAD2</text><text class="b" x="53" y="789.5">CYP1B1</text><text class="b" x="120" y="827.5">MX1</text><text class="b" x="62" y="832.5">MAD2L1BP</text><text class="b" x="87" y="840.5">AGRN</text>
<text class="b" x="137" y="790.5">PMF1</text><text class="b" x="193" y="790.5">DHX8</text>
<text class="b" x="212" y="844.5">HIST1H4L</text><text class="b" x="217" y="860.5">HIST1H3D</text><text class="b" x="226" y="871.5">HIST1H3G</text>
<text class="b" x="295" y="846.5">ANKRD16</text><text class="b" x="293" y="863.5">KIAA0195</text><text class="b" x="316" y="868.5">RFX1</text><text class="b" x="302" y="879.5">APEX1</text><text class="b" x="315" y="888.5">HLTF</text><text class="b" x="329" y="891.5">MVD</text><text class="b" x="337" y="877.5">SP2</text>
</g>
</g>

<g id="legendB">
<rect x="533.5" y="840.5" width="149" height="79" fill="#fff" stroke="#2e3192" stroke-width="1.2"/>
<use href="#d" transform="translate(553,860) scale(11)"/>
<text class="lg" x="569" y="864">Transcript Factors</text>
<circle cx="553" cy="887" r="9" class="dot"/>
<text class="lg" x="569" y="891">Target Genes</text>
<use href="#v" transform="translate(553,908) scale(10)"/>
<text class="lg" x="570" y="915">lncRNAs</text>
</g>
</svg>
